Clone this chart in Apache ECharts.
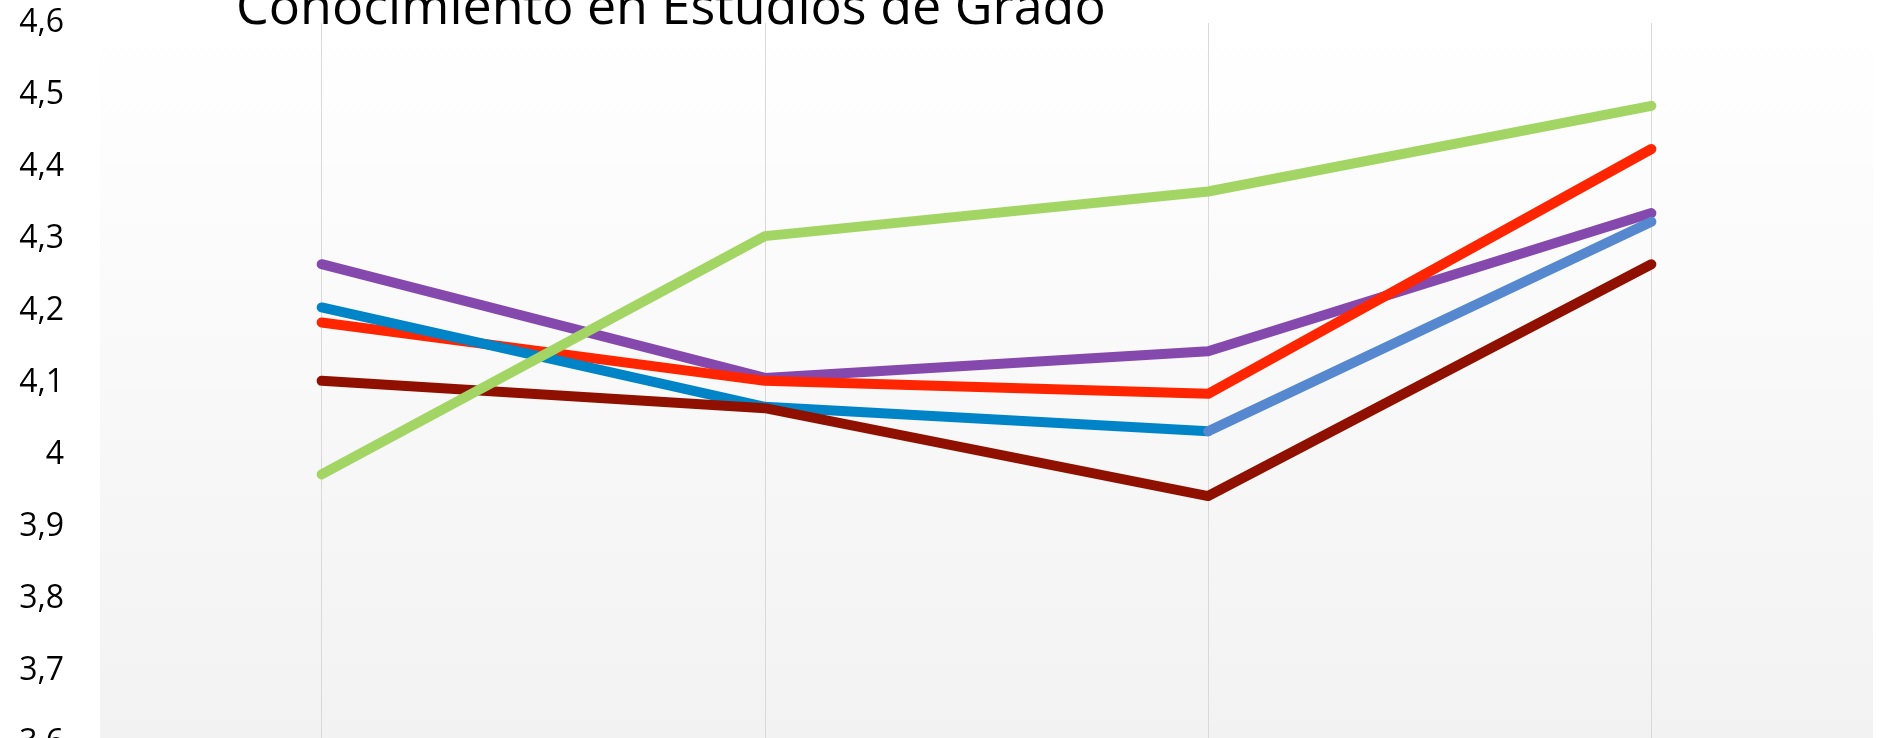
<!DOCTYPE html>
<html>
<head>
<meta charset="utf-8">
<script src="https://cdn.jsdelivr.net/npm/echarts@6/dist/echarts.min.js"></script>
<style>
  html, body { margin: 0; padding: 0; background: #fff; }
  #main { width: 1885px; height: 738px; }
</style>
</head>
<body>
<div id="main"></div>
<script>
// categorias (sin etiquetas visibles en el recorte)
var categorias = ['1', '2', '3', '4'];
var yTicks = [3.6, 4.6, 0.1]; // min, max, intervalo

// valores
var serieVerde = [3.973, 4.304, 4.366, 4.485];
var serieMorada = [4.265, 4.107, 4.144, 4.336];
var serieAzul = [4.205, 4.067, 4.033, 4.324];
var serieRoja = [4.184, 4.103, 4.085, 4.425];
var serieGranate = [4.103, 4.065, 3.943, 4.265];

var myChart = echarts.init(document.getElementById('main'));

function lineaSerie(nombre, datos, color, z) {
	return {
		name : nombre,
		type : 'line',
		data : datos,
		symbol : 'none',
		z : z,
		lineStyle : {
			color : color,
			width : 10,
			cap : 'round',
			join : 'round'
		}
	};
}

// el ultimo tramo de la serie azul tiene otro tono
var azulInicio = [];
var azulFinal = [];
for ( var i in serieAzul) {
	azulInicio.push(i < 3 ? serieAzul[i] : '-');
	azulFinal.push(i >= 2 ? serieAzul[i] : '-');
}

var option = {
	backgroundColor : '#ffffff',
	animation : false,
	title : {
		text : 'Conocimiento en Estudios de Grado',
		left : 231,
		top : -22,
		textStyle : {
			fontFamily : 'Open Sans',
			fontSize : 52,
			fontWeight : 'normal',
			color : '#000'
		}
	},
	grid : {
		left : 100,
		right : 12,
		top : 23,
		height : 720,
		outerBoundsMode : 'none',
		containLabel : false,
		show : true,
		borderWidth : 0,
		backgroundColor : new echarts.graphic.LinearGradient(0, 0, 0, 1, [
			{ offset : 0, color : '#ffffff' },
			{ offset : 1, color : '#f2f2f2' }
		])
	},
	xAxis : {
		type : 'category',
		data : categorias,
		boundaryGap : true,
		axisLine : { show : false },
		axisTick : { show : false },
		axisLabel : { show : false },
		splitLine : {
			show : true,
			alignWithLabel : true,
			lineStyle : { color : '#d9d9d9', width : 1 }
		}
	},
	yAxis : {
		type : 'value',
		min : yTicks[0],
		max : yTicks[1],
		interval : yTicks[2],
		axisLine : { show : false },
		axisTick : { show : false },
		splitLine : { show : false },
		axisLabel : {
			margin : 36,
			fontFamily : 'Open Sans',
			fontSize : 32,
			color : '#000',
			formatter : function(v) {
				return String(+v.toFixed(1)).replace('.', ',');
			}
		}
	},
	series : [
		lineaSerie('Morada', serieMorada, '#8549ae', 2),
		lineaSerie('Roja', serieRoja, '#ff2500', 3),
		lineaSerie('Azul', azulInicio, '#0084c8', 4),
		lineaSerie('Azul', azulFinal, '#5588cf', 4),
		lineaSerie('Granate', serieGranate, '#901000', 5),
		lineaSerie('Verde', serieVerde, '#a2d563', 6)
	]
};
myChart.setOption(option);
</script>
</body>
</html>
